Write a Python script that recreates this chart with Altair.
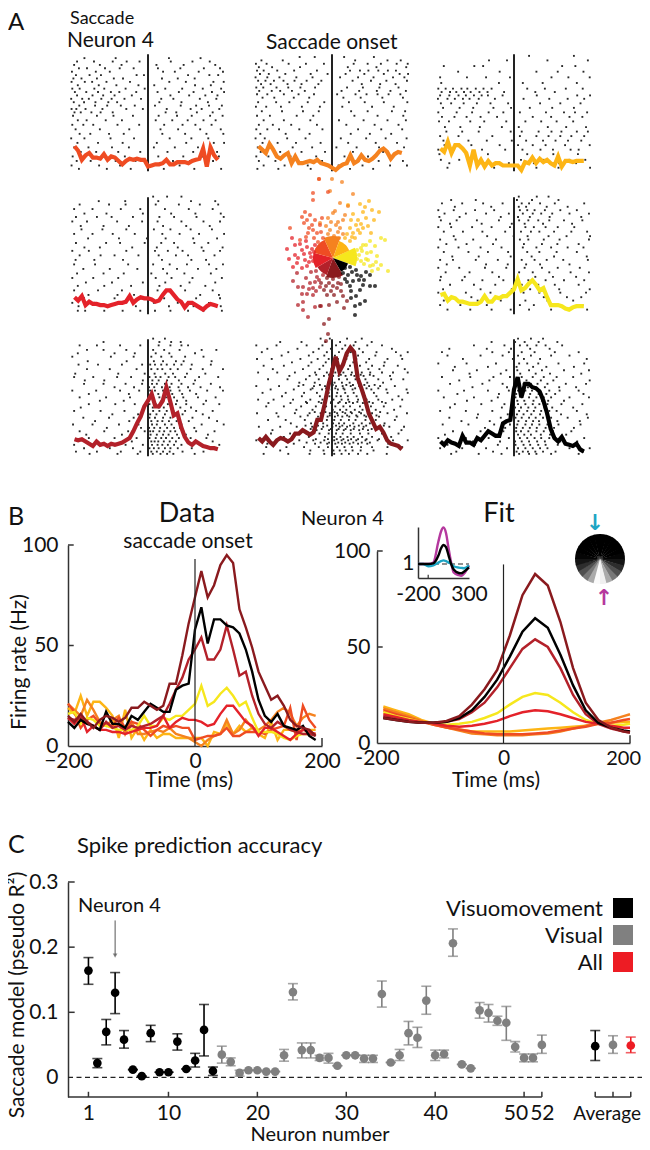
import math
import altair as alt
import pandas as pd

FONT = "Lato"
W, H = 634, 1134

TIME_BINS = [-200,-190,-180,-170,-160,-150,-140,-130,-120,-110,-100,-90,-80,-70,-60,-50,-40,-30,-20,-10,
             0,10,20,30,40,50,60,70,80,90,100,110,120,130,140,150,160,170,180,190]
RATE_REDORANGE = [21,17,9,13,15,11,11,10,14,9, 12,11,8,5,8,10,9,10,9,9, 3,4,5,5,6,9,5,5,7,7, 7,6,8,9,10,19,3,20,13,9]
RATE_ORANGE = [21,18,15,23,18,12,10,13,15,6, 12,6,6,7,8,7,9,6,5,4, 2,0,3,5,6,13,6,8,13,9, 8,10,13,17,19,16,10,14,16,15]
RATE_AMBER = [19,16,25,15,22,22,19,15,4,18, 4,9,3,8,4,6,6,4,4,4, 4,4,0,7,6,11,6,10,7,9, 6,4,12,3,8,8,7,8,8,8]
RATE_RED = [14,11,15,7,10,8,8,7,7,6, 7,8,9,9,10,15,9,12,14,13, 13,12,10,11,16,20,20,16,12,10, 5,9,9,7,5,3,6,8,7,6]
RATE_YELLOW = [16,17,11,14,13,10,10,9,8,8, 8,10,15,10,10,14,13,15,15,18, 21,30,20,22,26,29,25,20,22,14, 7,7,7,6,4,3,5,6,6,6]
RATE_BRICK = [14,13,14,12,10,8,12,9,10,8, 10,9,10,11,13,15,21,28,34,43, 48,54,43,43,48,60,48,35,37,25, 16,11,9,12,10,8,7,6,6,5]
RATE_MAROON = [15,12,16,12,9,13,15,14,12,14, 19,19,22,20,18,20,31,31,45,61, 74,87,74,80,90,95,91,68,59,49, 37,30,23,25,20,13,10,9,8,5]
RATE_BLACK = [12,9,13,11,10,8,17,11,11,9, 15,13,17,21,19,17,17,28,30,31, 58,69,51,63,63,60,59,56,48,37, 23,15,12,16,10,9,8,10,5,3]

COL_REDORANGE, COL_ORANGE, COL_AMBER = "#ef4c23", "#f5821f", "#fdb515"
COL_RED, COL_YELLOW = "#e4222a", "#f6e71d"
COL_BRICK, COL_MAROON, COL_BLACK = "#b3212a", "#8a1a1e", "#000000"

RAST_REDORANGE = {
 99:[-173,-88,57,143], 96:[-193,-147,-96,-58,-23,62,121,168], 93:[-201,-131,-72,23,97,183], 90:[-188,-166,-117,-77,-39,27,88,152,196], 87:[-207,-142,-104,41,73,138,204],
 84:[-196,-159,-128,-31,-11,109,167,191], 81:[-203,-181,-139,-93,-68,38,81,127], 78:[-208,-172,-152,-113,-49,58,103,178,206], 75:[-191,-134,-86,-26,17,128,171],
 72:[-206,-186,-146,-119,-61,-9,47,93,149,199], 69:[-199,-168,-136,-101,-78,-32,26,84,124,174,207], 66:[-193,-151,-122,-91,-44,61,112,156,189], 63:[-209,-179,-161,-127,-99,-64,-19,36,69,141,186],
 60:[-202,-174,-143,-108,-84,31,91,163], 57:[-187,-144,-111,-74,-36,19,89,131,166,201], 54:[-208,-195,-170,-124,-59,-14,51,116,146,194], 51:[-200,-183,-154,-129,-96,48,77,133,176],
 48:[-204,-139,-94,-41,29,79,119,169,203], 44:[-191,-167,-115,-71,21,66,108,151,184], 40:[-206,-176,-149,-83,-24,44,94,129,173], 36:[-197,-131,-51,34,82,142,198], 32:[-186,-157,-106,-66,39,101,159,205],
 28:[-209,-173,-102,-38,59,118,164], 24:[-192,-136,-69,24,104,179,207], 20:[-201,-162,-98,-52,16,73,136,172], 16:[-183,-141,-81,-21,53,123,188], 12:[-205,-121,-63,28,96,147,193], 8:[-194,-156,-88,-34,68,114,177], 4:[-208,-133,-76,13,86,161], 1:[-188,-112,-47,43,126,199]}
RAST_ORANGE = {
 100:[-88,-47,33,114], 97:[-192,-134,63,151,187], 94:[-207,-178,-118,-71,-22,59,97,133,176,206], 91:[-199,-163,-87,43,121,202], 88:[-204,-186,-149,-103,-41,49,76,99,126,152,174],
 85:[-196,-172,-127,-58,-12,37,88,141,184,207], 82:[-208,-176,-143,-97,-53,22,71,113,166,197], 79:[-201,-181,-158,-132,-102,-69,-29,56,106,148,204], 76:[-193,-167,-121,-83,-37,81,131,173],
 73:[-206,-187,-151,-119,-86,-46,41,84,129,181], 70:[-198,-164,-141,-109,-74,26,74,122,159,201], 67:[-204,-176,-131,-91,-49,14,64,94,124,154,186], 64:[-189,-157,-104,-62,31,78,137,193],
 60:[-201,-152,-116,-66,-21,46,89,141,205], 56:[-207,-179,-139,-82,-33,28,109,168], 52:[-191,-136,-79,-36,52,97,163,199], 48:[-204,-169,-96,-51,61,124,194], 44:[-186,-131,-59,19,86,151,201],
 40:[-199,-161,-111,-41,39,116,181], 36:[-206,-176,-144,-89,-26,71,134,191], 32:[-195,-126,-61,51,103,161], 28:[-208,-183,-122,-72,24,93,146,203], 24:[-189,-148,-98,-31,44,119,177],
 20:[-202,-167,-107,-54,12,67,128,196], 16:[-194,-141,-83,-19,57,139,184], 12:[-206,-173,-113,-43,34,98,166], 8:[-199,-154,-92,-27,72,127,193], 4:[-186,-129,-66,18,83,158,204], 1:[-203,-146,-58,49,112]}
RAST_AMBER = {
 101:[41,163], 97:[-68,-19,91,201], 92:[-191,-108,-84,131,167], 87:[-152,-39,61,119,189], 82:[-201,-128,-76,-11,102,148,206], 77:[-198,-41,24,78,171],
 72:[-206,-186,-166,-143,-127,-104,-83,-61,36,84,141,187], 69:[-197,-174,-157,-136,-118,-94,-72,-27,58,111], 66:[-201,-176,-151,-131,-109,-88,-71,-31,62,172,207], 63:[-207,-181,-161,-139,-121,-96,-52,26,96,146,191],
 59:[-199,-171,-137,-101,-64,-16,71,126,181], 55:[-193,-148,-111,-56,-8,43,104,163], 51:[-206,-156,-114,-69,-29,16,87,136,166,199], 47:[-196,-162,-129,-91,-46,51,101,151,186], 43:[-204,-177,-119,-81,-21,31,74,116,161],
 38:[-188,-146,-93,-33,13,92,142,196], 34:[-184,-141,-96,-9,21,67,102,129,171,201], 30:[-201,-151,-59,16,61,94,126,156,191], 26:[-192,-124,-74,-6,33,79,113,147,183], 22:[-189,-116,-39,11,51,86,139,206],
 18:[-206,-163,-87,-24,23,72,106,154,176], 14:[-203,-131,-71,36,107,174], 9:[-199,-149,-101,19,81,151,194], 6:[-176,-92,-14,54,123,169], 2:[-181,-54,61,121,207]}
RAST_RED = {
 103:[14,52,91], 99:[-134,-62,28,117,183], 96:[-186,-106,-61,21,84,141,191], 92:[-201,-151,-74,-21,46,111,176], 88:[-173,-113,-14,63,129,198], 85:[-196,-139,-99,-41,31,71,132,206],
 81:[-206,-166,-84,-16,26,91,151,196], 77:[-183,-121,-52,41,104,168], 74:[-181,-124,-59,16,61,116,174], 70:[-201,-151,-96,-36,39,86,139,207], 66:[-163,-79,-3,48,123,188], 62:[-196,-114,-76,-9,36,71,126,164],
 58:[-173,-131,-43,24,81,146,203], 55:[-206,-161,-59,19,54,94,151,196], 51:[-186,-129,-91,-26,29,76,109,181], 47:[-197,-146,-68,38,118,158], 43:[-201,-144,-54,14,59,106,166,204], 39:[-176,-104,-29,41,79,136,186],
 35:[-193,-121,-66,9,52,99,171], 31:[-206,-149,-81,21,64,121,201], 27:[-169,-98,-14,47,113,183], 24:[-191,-119,-46,31,89,156], 20:[-201,-136,-71,26,101,176], 16:[-162,-83,-38,68,142,193], 13:[-174,-91,-19,44,131,196],
 9:[-206,-146,-61,16,81,166], 6:[-189,-108,-33,57,124,198], 2:[-191,-171,-119,-69,-21,19,61,109,151,201]}
RAST_YELLOW = {
 103:[13,62,94], 100:[-171,-104,8,49,121], 97:[-196,-141,-84,-31,21,41,71,111,191], 94:[-161,-62,13,33,89,146], 91:[-206,-164,-106,-54,16,36,56,84,126,171], 88:[-189,-131,-76,-14,24,51,74,104,151,204],
 85:[-203,-148,-36,11,43,97,183], 82:[-199,-156,-101,-41,14,39,66,96,136,186], 79:[-174,-88,-6,29,79,158], 76:[-206,-171,-114,-61,-11,31,54,86,119,164], 72:[-191,-139,-86,-24,19,46,69,109,156,199],
 68:[-164,-73,-1,37,94,143,207], 65:[-201,-159,-111,-49,16,39,81,124,204], 61:[-184,-129,-57,27,76,118,176], 58:[-206,-151,-91,-34,24,61,101,146,189], 54:[-191,-124,-71,-16,36,69,116,171], 50:[-168,-96,-9,48,109,198],
 47:[-201,-166,-104,-44,21,56,89,134,201], 43:[-183,-76,-17,33,71,151], 40:[-206,-149,-79,-21,29,76,119,179], 36:[-186,-121,-59,14,51,96,154,204], 32:[-199,-134,-41,58,106,169], 29:[-201,-141,-86,-29,39,86,136,191],
 25:[-174,-109,-51,21,66,111,176], 21:[-193,-91,-6,44,123,206], 18:[-206,-131,-64,26,69,126,196], 14:[-166,-116,-31,81,144,183], 11:[-191,-99,-36,31,91,161], 7:[-201,-146,-74,16,54,121,186], 3:[-181,-119,-61,-9,41,101,149,199]}
RAST_BRICK = {
 103:[14,46], 100:[-121,31,63,89], 97:[-186,-139,-76,-21,29,61,91,109], 93:[-166,-121,-59,14,44,86,146,186], 90:[-191,-91,-36,21,58,128], 87:[-206,-101,-39,9,36,64,101,151], 83:[-164,-58,16,41,76,97,173],
 80:[-189,-136,-71,-16,6,19,36,51,71,91,119,171], 76:[-166,-104,-31,9,26,39,61,81,116,149,204], 72:[-198,-81,-9,18,47,68,106,156], 69:[-201,-149,-84,-46,4,21,34,56,74,101,139,191], 66:[-172,-119,-14,12,29,52,84,128],
 63:[-174,-121,-61,-16,11,24,46,64,91,124,171], 60:[-91,-38,3,17,38,59,83,109,143,196], 57:[-206,-141,-76,-24,6,19,41,61,86,114,161,204], 54:[-161,-52,8,28,44,66,93,131],
 51:[-186,-114,-49,11,31,49,71,96,136,184], 48:[-131,-66,2,16,37,58,79,104,158], 45:[-161,-89,-36,4,21,34,54,76,104,151,194], 42:[-183,-11,13,29,43,63,88,117],
 39:[-201,-129,-64,-14,14,31,51,69,101,131,176], 36:[-97,-27,6,23,46,68,94,149], 33:[-176,-106,-39,4,19,41,61,84,121,166], 30:[-144,-51,9,26,39,57,78,111,188], 27:[-204,-151,-79,-26,11,24,46,64,91,146,206],
 24:[-112,-19,3,17,33,52,71,87,126], 21:[-186,-119,-54,-9,6,14,31,44,61,74,96,131,181], 18:[-168,-71,7,24,41,56,79,103,163], 15:[-161,-91,-31,4,21,36,49,66,84,116,159], 12:[-141,-44,9,18,28,43,59,76,108,176],
 9:[-201,-134,-61,-14,11,26,39,54,71,91,141,194], 6:[-174,-104,-41,4,16,29,46,61,81,119,171], 3:[-196,-139,-74,-21,9,24,41,59,94,151], 1:[-159,-83,-28,13,34,52,69,127]}
RAST_MAROON = {
 103:[-31,-6,41,81], 100:[-141,-83,-18,22,64,108], 97:[-206,-151,-69,-26,11,36,59,96,136], 94:[-176,-94,-36,-3,28,74,163], 91:[-191,-119,-51,-14,19,51,84,121,174,206], 88:[-137,-63,-21,8,42,71,118,187],
 85:[-204,-164,-86,-39,-9,16,39,66,101,151,191], 82:[-109,-56,-17,13,33,58,93,143], 79:[-186,-131,-64,-24,6,26,49,76,109,141,179], 76:[-161,-79,-34,-2,21,44,68,99,129,198], 73:[-201,-149,-101,-46,-14,9,31,54,81,104,136,166,206],
 70:[-116,-61,-22,3,18,37,61,86,113,158], 67:[-174,-121,-71,-36,-4,19,41,64,91,126,161,194], 64:[-89,-47,-11,7,27,48,72,96,139], 61:[-206,-144,-91,-49,-19,11,29,51,74,101,131,171],
 58:[-167,-104,-58,-27,-1,16,34,56,79,107,148,203], 55:[-189,-126,-76,-41,-9,14,36,59,86,114,151,206], 52:[-136,-82,-33,-7,12,24,43,67,89,121,181], 49:[-201,-159,-106,-59,-26,4,26,44,71,94,126,164,191],
 46:[-173,-113,-68,-29,-3,17,38,57,84,111,146], 43:[-179,-131,-84,-44,-16,9,31,49,76,106,141,186], 40:[-97,-53,-21,2,22,39,62,83,119,169], 37:[-204,-151,-101,-61,-31,-6,14,36,54,79,109,151,204],
 34:[-146,-86,-38,-12,8,28,47,69,93,128,176], 31:[-174,-126,-74,-39,-14,6,24,46,64,91,119,171], 28:[-112,-57,-24,3,19,33,58,81,103,143], 25:[-199,-141,-96,-54,-24,1,21,41,61,86,116,156,196],
 22:[-162,-81,-42,-8,13,32,51,74,98,134,189], 19:[-166,-114,-69,-34,-9,11,29,51,76,99,136,181], 16:[-131,-63,-19,6,23,42,59,82,109,161], 13:[-206,-149,-89,-51,-21,6,26,44,66,91,124,166,206],
 10:[-176,-104,-46,-13,9,27,48,71,96,153], 7:[-179,-124,-76,-36,-11,14,34,54,79,109,151,191], 4:[-141,-59,-23,4,21,37,56,78,113], 1:[-186,-119,-61,-21,6,26,46,71,96,149],
 71:[-43,-8,24,52,78,103], 59:[-53,-16,9,31,63,94,126], 47:[-71,-36,-2,21,47,69,101,136], 35:[-66,-29,-6,16,41,66,88,121], 23:[-58,-28,-3,18,37,59,84,108], 11:[-69,-31,-8,17,36,58,81,103], 62:[-78,-33,2,39,57,88,116], 38:[-47,-18,7,29,51,74,98,131], 26:[-72,-38,-13,11,28,49,73,93,141], 14:[-44,-11,13,31,52,71,94,128]}
RAST_BLACK = {
 103:[11,46,79], 100:[-61,3,29,67,118], 97:[-109,-26,16,36,61,86,131], 94:[-176,-74,-8,44,97], 91:[-196,-59,-14,21,56,111,176], 88:[-181,-91,-31,11,46,101,151], 85:[-139,-3,27,71,198],
 81:[-206,-129,-49,14,36,66,121,191], 78:[-161,-71,7,52,88,163], 75:[-166,-101,-21,9,41,76,136,204], 72:[-121,-36,17,59,98,183], 69:[-196,-119,-56,-11,21,51,81,116,161], 66:[-149,-67,3,34,73,107,206],
 63:[-174,-86,-31,4,26,46,64,91,141,196], 60:[-113,-19,13,38,59,84,123,169], 57:[-206,-136,-71,-14,11,31,49,71,96,124,176], 54:[-154,-41,6,24,44,67,88,112,189], 51:[-191,-109,-44,4,21,41,61,81,101,151,204],
 48:[-128,-61,9,28,53,76,93,136], 45:[-161,-89,-26,11,31,51,69,91,129,186], 42:[-174,-33,3,19,39,58,83,104,161], 39:[-201,-131,-59,-9,14,36,54,74,96,116,171], 36:[-98,-17,8,26,47,71,89,128,198],
 33:[-176,-101,-36,4,21,41,59,79,101,146,201], 30:[-143,-66,12,33,52,68,94,118,179], 27:[-194,-124,-54,-11,9,31,49,69,91,121,181], 24:[-79,-24,6,24,43,62,86,109,163], 21:[-166,-91,-29,6,19,39,61,81,106,156],
 18:[-188,-46,11,28,46,73,98,142], 15:[-206,-131,-69,-14,16,36,56,74,96,134,191], 12:[-112,-38,3,21,41,63,84,126,172], 9:[-181,-106,-44,4,26,44,66,86,119,169], 6:[-201,-141,-76,-19,11,31,51,71,91,151,206],
 3:[-157,-57,7,24,38,58,79,113,188], 1:[-171,-96,-34,14,41,61,101,176]}

SCAT_YELLOW = [(52,18),(48,20),(55,-13),(44,2),(43,-4),(48,-7),(45,-11),(40,-7),(37,-8),(33,13),(42,12),(30,13),(37,17),(39,-13),(35,-2),(34,5),(28,-3),(38,6),(29,7),(31,-6),(26,3),(24,8),(33,-1),(24,-1),(28,10),(22,4)]
SCAT_AMBER = [(46,46),(41,38),(39,48),(36,57),(30,46),(27,54),(32,51),(20,44),(18,38),(23,33),(30,30),(35,32),(27,25),(20,25),(38,25),(15,53),(25,38),(33,40),(28,34),(17,30),(14,24),(22,20),(17,17),(25,28),(12,20),(19,21)]
SCAT_ORANGE = [(-1,79),(9,76),(-3,67),(20,64),(2,47),(12,43),(7,30),(10,38),(-13,35),(-7,32),(15,52),(0,45),(7,55),(-14,79),(-5,40),(5,36),(3,33),(-2,36),(5,26),(-3,28),(10,24),(1,22),(-5,24),(6,20)]
SCAT_REDORANGE = [(-14,79),(-20,65),(-20,58),(-28,46),(-31,41),(-23,43),(-11,40),(-29,35),(-43,30),(-21,33),(-13,33),(-16,25),(-33,18),(-25,25),(-5,66),(-26,38),(-18,38),(-24,30),(-12,26),(-19,20),(-10,20),(-27,21),(-15,16),(-20,28)]
SCAT_RED = [(-46,9),(-41,20),(-44,-1),(-38,13),(-31,8),(-35,0),(-26,11),(-28,-2),(-23,5),(-38,3),(-18,13),(-31,-10),(-40,-9),(-33,14),(-27,17),(-36,-5),(-29,4),(-24,-4),(-21,9),(-26,-8),(-22,1),(-20,-3),(-19,6)]
SCAT_BRICK = [(-40,-23),(-36,-15),(-30,-29),(-35,-29),(-26,-36),(-31,-36),(-20,-37),(-23,-25),(-35,-47),(-30,-44),(-30,-52),(-25,-59),(-18,-49),(-12,-48),(-13,-29),(-16,-19),(-27,-20),(-20,-30),(-17,-33),(-22,-14),(-18,-24),(-24,-31),(-14,-22),(-17,-13),(-10,-17)]
SCAT_MAROON = [(-9,-66),(-5,-76),(-7,-83),(-4,-61),(-13,-48),(-4,-47),(4,-44),(11,-50),(14,-43),(8,-33),(-6,-37),(0,-28),(-12,-25),(10,-38),(-2,-33),(-7,-28),(4,-30),(1,-37),(-4,-25),(5,-25),(-9,-32),(8,-26),(0,-21),(-6,-20),(6,-19)]
SCAT_BLACK = [(42,-28),(37,-28),(32,-43),(27,-46),(22,-48),(22,-57),(23,-38),(18,-40),(30,-27),(28,-18),(37,-17),(17,-28),(15,-17),(20,-23),(10,-15),(23,-12),(27,-32),(31,-22),(14,-24),(19,-14),(26,-22),(12,-21),(18,-33),(24,-17),(33,-14),(12,-10),(17,-9)]

CORE_START = [65,110,150,200,240,285,335,20]
CORE_END = [110,150,200,240,285,335,380,65]
CORE_RADIUS = [24,16,20,18,20,20,22,18]
CORE_COLOR = [COL_YELLOW,COL_BLACK,COL_MAROON,COL_BRICK,COL_RED,COL_REDORANGE,COL_ORANGE,COL_AMBER]

FIT_T = [-190,-170,-150,-130,-110,-90,-70,-50,-30,-10,10,30,50,70,90,110,130,150,170,190,200]
FIT_AMBER = [19,17,15,12,10,8,7,6,6,6,6,6.5,7,7.5,8,8.5,9,10,10.5,11,11]
FIT_ORANGE = [18,16,14,11.5,9.5,8,6.5,5,4.5,4,4,4,4.5,5,6,7.5,9,10.5,12,14,15]
FIT_REDORANGE = [17,15,13,11,9.5,8,7,6,5,4.5,4.5,4.5,5,5.5,6.5,7.5,8.5,10,10.5,12,12.5]
FIT_RED = [15,13.5,12,11,10,9,8.5,9,10,11.5,14,16,17,16.5,15,13,11,10,9,8,8]
FIT_YELLOW = [16,14,12.5,11,10,9.5,10,11,13,15.5,20,24,26,25,21,16,12,10,9,9.5,10]
FIT_BRICK = [14,12.5,11.5,10.5,10.5,11,12.5,16,21,29,39,49,54,50,39,25,15,10,7.5,6,5.5]
FIT_BLACK = [13,12,11,10.5,10.5,11,13,17,24,33,45,58,65,60,46,30,17,10.5,8,6.5,6]
FIT_MAROON = [13,12,11,10.5,10.5,11.5,14,20,28,38,56,77,88,82,63,39,21,12,8,6,5.5]

INSET_T = [-200,-150,-100,-50,0,25,50,75,100,125,150,200,225,250,300]
INSET_MAGENTA = [1,1,1,1.05,1.8,2.15,2.3,2.1,1.55,1.05,.7,.6,.58,.65,.95]
INSET_BLACK = [1,1,1,1.02,1.3,1.55,1.68,1.6,1.3,1.0,.8,.68,.67,.72,.88]
INSET_TEAL = [1,1,.92,.95,1.05,1.1,1.13,1.1,1.05,1.0,.92,.87,.86,.85,.95]

DISC_START = [0,15,30,45,60,75,90,105,120,135,150,165,180,195,210,225,240,255,270,285,300,315,330,345]
DISC_GREY = [0,0,0,0,0,5,20,45,80,120,170,240,250,170,120,80,45,20,5,0,0,0,0,0]

NEURON = list(range(1,53))
R2_MEAN = [.164,.022,.07,.13,.058,.012,.002,.068,.008,.008,.055,.013,.026,.073,.01,
           .035,.024,.007,.011,.011,.009,.009,.034,.131,.042,.042,.03,.03,.018,.034,.034,.029,.029,.128,.023,.034,
           .068,.061,.118,.034,.036,.206,.02,.014,.103,.099,.087,.084,.047,.03,.03,.05]
R2_LOW = [.143,.015,.05,.098,.045,.012,.002,.055,.008,.008,.042,.013,.016,.033,.003,
          .022,.018,.002,.011,.011,.009,.009,.025,.119,.03,.03,.026,.022,.018,.034,.034,.023,.023,.108,.023,.026,
          .05,.046,.097,.026,.03,.186,.02,.014,.091,.085,.08,.057,.039,.024,.024,.037]
R2_HIGH = [.184,.029,.089,.161,.072,.012,.002,.08,.008,.008,.067,.013,.037,.112,.016,
           .048,.03,.011,.011,.011,.009,.009,.043,.144,.053,.053,.034,.037,.018,.034,.034,.034,.034,.148,.023,.043,
           .086,.077,.14,.042,.042,.228,.02,.014,.115,.112,.094,.109,.055,.036,.036,.065]
GROUP = ["Visuomovement"]*15 + ["Visual"]*37
AVG_X = [58,60,62]
AVG_MEAN = [.048,.05,.049]
AVG_LOW = [.026,.037,.038]
AVG_HIGH = [.072,.064,.062]
AVG_GROUP = ["Visuomovement","Visual","All"]
GROUP_NAMES = ["Visuomovement","Visual","All"]
GROUP_COLORS = ["#000000","#808080","#ed1c24"]
NEURON_TICKS = [1,10,20,30,40,50,52]
AXIS_DARK = "#333333"

layers = []

def xscale(dom, lo, hi):
    return alt.Scale(domain=dom, range=[lo-8, hi-8], nice=False, zero=False)
def yscale(dom, bottom, top):
    return alt.Scale(domain=dom, range=[bottom-8, top-8], nice=False, zero=False)
def label(text, x, y, size=21, align="left", angle=0, color="#111111", font=FONT, weight="normal"):
    layers.append(alt.Chart(pd.DataFrame({"t":[text]})).mark_text(
        font=font, fontSize=size, fontWeight=weight, align=align, baseline="alphabetic", angle=angle, color=color
    ).encode(text="t:N", x=alt.value(x-8), y=alt.value(y-8)))
def xaxis(values, py, **kw):
    return alt.Axis(orient="bottom", values=values, offset=(py-8)-H, grid=False, ticks=False, title=None,
                    labelFont=FONT, labelFontSize=21, labelColor="#111111", labelFlush=False, labelOverlap=False,
                    domainColor=AXIS_DARK, domainWidth=1.5, **kw)
def yaxis(values, px, **kw):
    return alt.Axis(orient="left", values=values, offset=-(px-8), grid=False, ticks=False, title=None,
                    labelFont=FONT, labelFontSize=21, labelColor="#111111", labelOverlap=False,
                    domainColor=AXIS_DARK, domainWidth=1.5, **kw)

# ---- Panel A
PANELS_A = [
 (148,170,RATE_REDORANGE,RAST_REDORANGE,COL_REDORANGE),
 (332,170,RATE_ORANGE,RAST_ORANGE,COL_ORANGE),
 (514,170,RATE_AMBER,RAST_AMBER,COL_AMBER),
 (148,313,RATE_RED,RAST_RED,COL_RED),
 (514,313,RATE_YELLOW,RAST_YELLOW,COL_YELLOW),
 (148,455,RATE_BRICK,RAST_BRICK,COL_BRICK),
 (332,455,RATE_MAROON,RAST_MAROON,COL_MAROON),
 (514,455,RATE_BLACK,RAST_BLACK,COL_BLACK),
]
for cx, base, rate, rast, col in PANELS_A:
    sx = xscale([-200,200], cx-73.5, cx+73.5)
    sy = yscale([0,100], base, base-113)
    spikes = pd.DataFrame([{"t":t,"trial":k} for k,ts in rast.items() for t in ts])
    layers.append(alt.Chart(spikes).mark_point(filled=True, shape="square", size=3.5, color="#111111", opacity=.9).encode(
        x=alt.X("t:Q", scale=sx, axis=None), y=alt.Y("trial:Q", scale=sy, axis=None)))
    layers.append(alt.Chart(pd.DataFrame({"t":[0],"a":[-1],"b":[102.5]})).mark_rule(color="#222222", strokeWidth=2).encode(
        x=alt.X("t:Q", scale=sx, axis=None), y=alt.Y("a:Q", scale=sy, axis=None), y2="b:Q"))
    layers.append(alt.Chart(pd.DataFrame({"t":TIME_BINS,"r":rate})).mark_line(color=col, strokeWidth=4.2).encode(
        x=alt.X("t:Q", scale=sx, axis=None), y=alt.Y("r:Q", scale=sy, axis=None)))

# scatter
sx_s = xscale([-60,60], 333-60, 333+60)
sy_s = yscale([-85,85], 258+85, 258-85)
for a0, a1, r, col in zip(CORE_START, CORE_END, CORE_RADIUS, CORE_COLOR):
    layers.append(alt.Chart(pd.DataFrame({"a":[math.radians(a0)],"b":[math.radians(a1)],"r":[r]})).mark_arc(color=col).encode(
        theta=alt.Theta("a:Q", scale=None), theta2="b:Q", radius=alt.Radius("r:Q", scale=None),
        x=alt.value(333-8), y=alt.value(258-8)))
for pts, col in [(SCAT_YELLOW,COL_YELLOW),(SCAT_AMBER,COL_AMBER),(SCAT_ORANGE,COL_ORANGE),(SCAT_REDORANGE,COL_REDORANGE),
                 (SCAT_RED,COL_RED),(SCAT_BRICK,COL_BRICK),(SCAT_MAROON,COL_MAROON),(SCAT_BLACK,COL_BLACK)]:
    layers.append(alt.Chart(pd.DataFrame(pts, columns=["dx","dy"])).mark_point(filled=True, size=17, color=col, opacity=.75).encode(
        x=alt.X("dx:Q", scale=sx_s, axis=None), y=alt.Y("dy:Q", scale=sy_s, axis=None)))

# ---- Panel B helper
def rate_panel(x0, x1, y0, y100, series, width, t, ylab_pad, xpad, xlabel_expr=None):
    sx = xscale([-200,200], x0, x1)
    sy = yscale([0,100], y0, y100)
    kw = {"labelExpr": xlabel_expr} if xlabel_expr else {}
    layers.append(alt.Chart(pd.DataFrame({"a":[-200,-200],"b":[-191,-191],"y":[100,50]})).mark_rule(color=AXIS_DARK, strokeWidth=1.5).encode(
        x=alt.X("a:Q", scale=sx, axis=xaxis([-200,0,200], y0, labelPadding=xpad, **kw)), x2="b:Q",
        y=alt.Y("y:Q", scale=sy, axis=yaxis([0,50,100], x0, labelPadding=ylab_pad))))
    layers.append(alt.Chart(pd.DataFrame({"x":[200],"a":[0],"b":[4]})).mark_rule(color=AXIS_DARK, strokeWidth=1.5).encode(
        x=alt.X("x:Q", scale=sx, axis=None), y=alt.Y("a:Q", scale=sy, axis=None), y2="b:Q"))
    for vals, col in series:
        layers.append(alt.Chart(pd.DataFrame({"t":t,"r":vals})).mark_line(color=col, strokeWidth=width).encode(
            x=alt.X("t:Q", scale=sx, axis=None), y=alt.Y("r:Q", scale=sy, axis=None)))
    layers.append(alt.Chart(pd.DataFrame({"x":[0],"a":[0],"b":[93]})).mark_rule(color="#222222", strokeWidth=1.2).encode(
        x=alt.X("x:Q", scale=sx, axis=None), y=alt.Y("a:Q", scale=sy, axis=None), y2="b:Q"))

rate_panel(68, 322, 746, 545, [(RATE_AMBER,COL_AMBER),(RATE_ORANGE,COL_ORANGE),(RATE_REDORANGE,COL_REDORANGE),(RATE_YELLOW,COL_YELLOW),
                               (RATE_RED,COL_RED),(RATE_BRICK,COL_BRICK),(RATE_BLACK,COL_BLACK),(RATE_MAROON,COL_MAROON)], 2.4, TIME_BINS, 10, 4)
rate_panel(377, 630, 743, 551, [(FIT_AMBER,COL_AMBER),(FIT_ORANGE,COL_ORANGE),(FIT_REDORANGE,COL_REDORANGE),(FIT_YELLOW,COL_YELLOW),
                                (FIT_RED,COL_RED),(FIT_BRICK,COL_BRICK),(FIT_BLACK,COL_BLACK),(FIT_MAROON,COL_MAROON)], 2.5, FIT_T, 7, 4,
           "datum.value==200?'':datum.value")

# inset
sx_i = xscale([-200,300], 418, 469)
sy_i = yscale([.5,2.32], 578, 527)
layers.append(alt.Chart(pd.DataFrame({"x":[-100],"a":[.5],"b":[.62]})).mark_rule(color=AXIS_DARK, strokeWidth=1.2).encode(
    x=alt.X("x:Q", scale=sx_i, axis=xaxis([-200,300], 578, labelPadding=5, labelExpr="datum.value")),
    y=alt.Y("a:Q", scale=sy_i, axis=yaxis([1], 418, labelPadding=4)), y2="b:Q"))
layers.append(alt.Chart(pd.DataFrame({"a":[-200],"b":[300],"y":[1]})).mark_rule(color="#222222", strokeWidth=1.2, strokeDash=[5,3]).encode(
    x=alt.X("a:Q", scale=sx_i, axis=None), x2="b:Q", y=alt.Y("y:Q", scale=sy_i, axis=None)))
for vals, col in [(INSET_MAGENTA,"#b5389e"),(INSET_TEAL,"#1ea5c4"),(INSET_BLACK,"#000000")]:
    layers.append(alt.Chart(pd.DataFrame({"t":INSET_T,"r":vals})).mark_line(color=col, strokeWidth=2.4, interpolate="monotone").encode(
        x=alt.X("t:Q", scale=sx_i, axis=None), y=alt.Y("r:Q", scale=sy_i, axis=None)))

# disc
for a0, g in zip(DISC_START, DISC_GREY):
    layers.append(alt.Chart(pd.DataFrame({"a":[math.radians(a0)],"b":[math.radians(a0+17)],"r":[25]})).mark_arc(color=f"rgb({g},{g},{g})").encode(
        theta=alt.Theta("a:Q", scale=None), theta2="b:Q", radius=alt.Radius("r:Q", scale=None),
        x=alt.value(600-8), y=alt.value(559-8)))

# ---- Panel C
sx_c = xscale([-1.3,63.6], 68, 645)
sy_c = yscale([-.03,.3], 1097, 882)
layers.append(alt.Chart(pd.DataFrame({"a":[-1.3,-1.3,-1.3],"b":[-.55,-.55,-.55],"y":[.1,.2,.3]})).mark_rule(color=AXIS_DARK, strokeWidth=1.5).encode(
    x=alt.X("a:Q", scale=sx_c, axis=xaxis(NEURON_TICKS, 1097, labelPadding=5, domain=False, labelExpr="datum.value==50?'':datum.label")), x2="b:Q",
    y=alt.Y("y:Q", scale=sy_c, axis=yaxis([0,.1,.2,.3], 68, labelPadding=10, labelExpr="datum.value==0?'0':datum.label"))))
layers.append(alt.Chart(pd.DataFrame({"a":[-1.3,58],"b":[52,62],"y":[-.03,-.03]})).mark_rule(color=AXIS_DARK, strokeWidth=1.5).encode(
    x=alt.X("a:Q", scale=sx_c, axis=None), x2="b:Q", y=alt.Y("y:Q", scale=sy_c, axis=None)))
layers.append(alt.Chart(pd.DataFrame({"x":NEURON_TICKS+AVG_X})).mark_rule(color=AXIS_DARK, strokeWidth=1.5).encode(
    x=alt.X("x:Q", scale=sx_c, axis=None), y=alt.Y("a:Q", scale=sy_c, axis=None), y2="b:Q"
).transform_calculate(a="-0.03", b="-0.022"))
layers.append(alt.Chart(pd.DataFrame({"a":[-1.3],"b":[63.6],"y":[0]})).mark_rule(color="#222222", strokeWidth=1.3, strokeDash=[5,3.5]).encode(
    x=alt.X("a:Q", scale=sx_c, axis=None), x2="b:Q", y=alt.Y("y:Q", scale=sy_c, axis=None)))
layers.append(alt.Chart(pd.DataFrame({"x":[4],"a":[.241],"b":[.187]})).mark_rule(color="#555555", strokeWidth=1).encode(
    x=alt.X("x:Q", scale=sx_c, axis=None), y=alt.Y("a:Q", scale=sy_c, axis=None), y2="b:Q"))
layers.append(alt.Chart(pd.DataFrame({"x":[4],"y":[.187]})).mark_point(shape="triangle-down", filled=True, size=22, color="#555555").encode(
    x=alt.X("x:Q", scale=sx_c, axis=None), y=alt.Y("y:Q", scale=sy_c, axis=None)))

neurons = pd.DataFrame({"n":NEURON+AVG_X,"m":R2_MEAN+AVG_MEAN,"lo":R2_LOW+AVG_LOW,"hi":R2_HIGH+AVG_HIGH,"g":GROUP+AVG_GROUP})
color_c = alt.Color("g:N", scale=alt.Scale(domain=GROUP_NAMES, range=GROUP_COLORS), legend=None)
layers.append(alt.Chart(neurons).mark_rule(strokeWidth=1.6).encode(
    x=alt.X("n:Q", scale=sx_c, axis=None), y=alt.Y("lo:Q", scale=sy_c, axis=None), y2="hi:Q", color=color_c))
for f in ["lo","hi"]:
    layers.append(alt.Chart(neurons).mark_tick(orient="horizontal", size=10, thickness=1.6).encode(
        x=alt.X("n:Q", scale=sx_c, axis=None), y=alt.Y(f+":Q", scale=sy_c, axis=None), color=color_c))
layers.append(alt.Chart(neurons).mark_point(filled=True, size=75, opacity=1).encode(
    x=alt.X("n:Q", scale=sx_c, axis=None), y=alt.Y("m:Q", scale=sy_c, axis=None), color=color_c))

# legend
for name, col, cy in zip(GROUP_NAMES, GROUP_COLORS, [908,935,962]):
    layers.append(alt.Chart(pd.DataFrame({"t":[name]})).mark_point(shape="square", filled=True, size=400, color=col, opacity=1).encode(
        x=alt.value(623-8), y=alt.value(cy-8)))
    label(name, 603, cy+8, 22, "right")

# ---- Text
label("A", 8, 30, 24)
label("Saccade", 70, 24, 18)
label("Neuron 4", 67, 47, 21)
label("Saccade onset", 266, 49, 21)
label("B", 8, 525, 25)
label("Data", 187, 522, 27, "center")
label("saccade onset", 188, 548, 21, "center")
label("Neuron 4", 301, 525, 20)
label("Fit", 499, 522, 27, "center")
label("Firing rate (Hz)", 26, 662, 21, "center", 270)
label("Time (ms)", 189, 787, 21, "center")
label("Time (ms)", 496, 787, 21, "center")
label("200", 641, 765, 20, "right")
label("C", 8, 853, 25)
label("Spike prediction accuracy", 77, 853, 22)
label("Neuron 4", 78, 912, 20)
label("Saccade model (pseudo R²)", 24, 995, 21, "center", 270)
label("50", 516, 1120, 21, "center")
label("Average", 641, 1120, 19, "right")
label("Neuron number", 320, 1141, 20, "center")
label("↓", 595, 530, 22, "center", 0, "#1ea5c4", "DejaVu Sans", "bold")
label("↑", 604, 605, 22, "center", 0, "#b5389e", "DejaVu Sans", "bold")

chart = alt.layer(*layers).resolve_scale(x="independent", y="independent").properties(
    width=W, height=H, padding=0, autosize=alt.AutoSizeParams(type="none")
).configure_view(stroke=None)

chart.save("out.html", embed_options={"renderer": "svg", "actions": False})
